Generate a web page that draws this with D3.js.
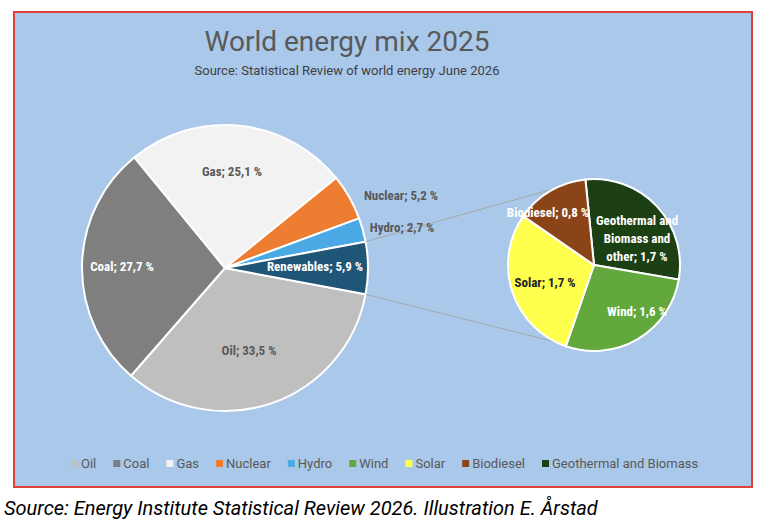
<!DOCTYPE html>
<html><head><meta charset="utf-8">
<script src="https://cdn.jsdelivr.net/npm/d3@7"></script>
<style>
body{margin:0;background:#fff;}
text{font-family:"Liberation Sans Narrow","Roboto Condensed",Roboto,sans-serif;}
</style></head>
<body><div id="chart"></div>
<script>
// main pie data
var mainNames = ["Oil", "Coal", "Gas", "Nuclear", "Hydro", "Renewables"];
var mainValues = [33.5, 27.7, 25.1, 5.2, 2.7, 5.9];
var mainColors = ["#bfbfbf", "#7f7f7f", "#f2f2f2", "#ed7d31", "#4ba9e6", "#1f5678"];

// secondary pie (renewables split)
var subNames = ["Geothermal and Biomass and other", "Wind", "Solar", "Biodiesel"];
var subValues = [1.7, 1.6, 1.7, 0.8];
var subColors = ["#1c3f14", "#62a83d", "#ffff4d", "#8b4418"];

var legendNames = ["Oil", "Coal", "Gas", "Nuclear", "Hydro", "Wind", "Solar", "Biodiesel", "Geothermal and Biomass"];
var legendColors = ["#bfbfbf", "#7f7f7f", "#f2f2f2", "#ed7d31", "#4ba9e6", "#62a83d", "#ffff4d", "#8b4418", "#1c3f14"];

var svg = d3.select("#chart").append("svg").attr("width", 768).attr("height", 529);

svg.append("rect").attr("x", 14).attr("y", 12).attr("width", 738).attr("height", 475)
  .attr("fill", "#a9c8ea").attr("stroke", "#e0403a").attr("stroke-width", 2);

svg.append("text").attr("x", 347).attr("y", 51).attr("text-anchor", "middle")
  .attr("font-size", 28).attr("fill", "#595959").style("font-family", "Roboto, sans-serif")
  .text("World energy mix 2025");
svg.append("text").attr("x", 347).attr("y", 75).attr("text-anchor", "middle")
  .attr("font-size", 13).attr("fill", "#404040").style("font-family", "Roboto, sans-serif")
  .text("Source: Statistical Review of world energy June 2026");

var fmt = function(v) { return String(v).replace(".", ",") + " %"; };

// main pie: renewables centred on the east side
var total = d3.sum(mainValues);
var renFrac = mainValues[5] / total;
var start = Math.PI / 2 + renFrac * Math.PI;
var mainPie = d3.pie().sort(null).startAngle(start).endAngle(start + 2 * Math.PI);
var mainArcs = mainPie(mainValues);
var mr = 143, mcx = 225, mcy = 268;
var arc = d3.arc().innerRadius(0).outerRadius(mr);

var mainG = svg.append("g").attr("transform", `translate(${mcx},${mcy})`);
mainG.selectAll("path").data(mainArcs).enter().append("path")
  .attr("d", arc).attr("fill", (d, i) => mainColors[i])
  .attr("stroke", "#fff").attr("stroke-width", 2);

// secondary pie
var sr = 86, scx = 594, scy = 265;
var subPie = d3.pie().sort(null).startAngle(-0.1).endAngle(-0.1 + 2 * Math.PI);
var subArcs = subPie(subValues);
var sarc = d3.arc().innerRadius(0).outerRadius(sr);

// connector lines
var renArc = mainArcs[5];
function pt(cx, cy, r, a) { return [cx + r * Math.sin(a), cy - r * Math.cos(a)]; }
var p1 = pt(mcx, mcy, mr, renArc.startAngle), p2 = pt(mcx, mcy, mr, renArc.endAngle);
var q1 = pt(scx, scy, sr, -0.48), q2 = pt(scx, scy, sr, 3.6);
svg.append("line").attr("x1", p1[0]).attr("y1", p1[1]).attr("x2", q1[0]).attr("y2", q1[1])
  .attr("stroke", "#a6a6a6").attr("stroke-width", 1);
svg.append("line").attr("x1", p2[0]).attr("y1", p2[1]).attr("x2", q2[0]).attr("y2", q2[1])
  .attr("stroke", "#a6a6a6").attr("stroke-width", 1);

var subG = svg.append("g").attr("transform", `translate(${scx},${scy})`);
subG.selectAll("path").data(subArcs).enter().append("path")
  .attr("d", sarc).attr("fill", (d, i) => subColors[i])
  .attr("stroke", "#fff").attr("stroke-width", 2);

// labels
function label(x, y, t, c) {
  svg.append("text").attr("x", x).attr("y", y).attr("text-anchor", "middle")
    .attr("font-size", 13).attr("font-weight", "bold").attr("fill", c).text(t);
}
label(232, 176, "Gas; " + fmt(mainValues[2]), "#595959");
label(401, 200, "Nuclear; " + fmt(mainValues[3]), "#595959");
label(402, 232, "Hydro; " + fmt(mainValues[4]), "#595959");
label(315, 271, "Renewables; " + fmt(mainValues[5]), "#fff");
label(122, 271, "Coal; " + fmt(mainValues[1]), "#fff");
label(249, 355, "Oil; " + fmt(mainValues[0]), "#595959");
label(548, 217, "Biodiesel; " + fmt(subValues[3]), "#fff");
label(637, 225, "Geothermal and", "#fff");
label(637, 243, "Biomass and", "#fff");
label(637, 261, "other; " + fmt(subValues[0]), "#fff");
label(545, 287, "Solar; " + fmt(subValues[2]), "#222");
label(637, 316, "Wind; " + fmt(subValues[1]), "#fff");

// legend
var lg = svg.append("g").attr("transform", "translate(0,464)");
var lx = 71;
legendNames.forEach(function(n, i) {
  lg.append("rect").attr("x", lx).attr("y", -4).attr("width", 7).attr("height", 7)
    .attr("fill", legendColors[i]);
  var t = lg.append("text").attr("x", lx + 10).attr("y", 4).attr("font-size", 13)
    .attr("fill", "#595959").style("font-family", "Roboto, sans-serif").text(n);
  lx += t.node().getComputedTextLength() + 27;
});

svg.append("text").attr("x", 4).attr("y", 515).attr("font-size", 20).attr("font-style", "italic")
  .attr("fill", "#000").style("font-family", "Roboto, sans-serif")
  .text("Source: Energy Institute Statistical Review 2026. Illustration E. Årstad");
</script>
</body></html>
